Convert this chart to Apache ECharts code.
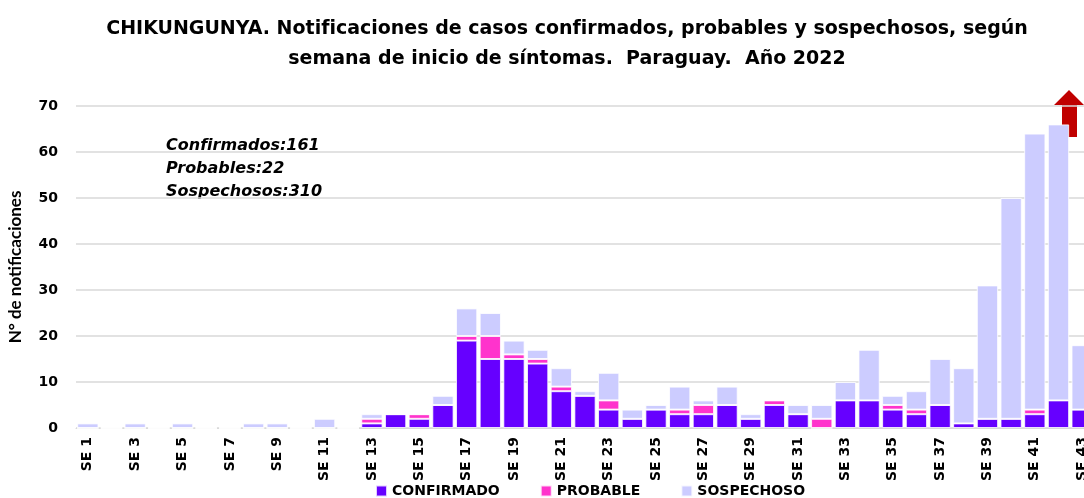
<!DOCTYPE html>
<html lang="es">
<head>
    <meta charset="UTF-8">
    <title>Chikungunya Paraguay 2022</title>
    <script src="https://cdn.jsdelivr.net/npm/echarts@6/dist/echarts.min.js"></script>
    <style>
        html, body { margin: 0; padding: 0; background: #fff; }
        #chart { width: 1084px; height: 498px; }
    </style>
</head>
<body>
    <div id="chart"></div>
    <script>
        // semanas epidemiológicas SE 1 .. SE 43
        const semanas = [];
        for (let i = 1; i <= 43; i++) semanas.push('SE ' + i);

        const confirmados = [0,0,0,0,0,0,0,0,0,0, 0,0,1,3,2,5,19,15,15,14, 8,7,4,2,4,3,3,5,2,5, 3,0,6,6,4,3,5,1,2,2, 3,6,4];
        const probables   = [0,0,0,0,0,0,0,0,0,0, 0,0,1,0,1,0,1,5,1,1, 1,0,2,0,0,1,2,0,0,1, 0,2,0,0,1,1,0,0,0,0, 1,0,0];
        const sospechosos = [1,0,1,0,1,0,0,1,1,0, 2,0,1,0,0,2,6,5,3,2, 4,1,6,2,1,5,1,4,1,0, 2,3,4,11,2,4,10,12,29,48, 60,60,14];

        const totales = ['Confirmados:161', 'Probables:22', 'Sospechosos:310'];

        const chart = echarts.init(document.getElementById('chart'));

        const barStyle = (color) => ({
            color: color,
            borderColor: 'rgba(255,255,255,0.8)',
            borderWidth: 1
        });

        const option = {
            animation: false,
            title: {
                text: 'CHIKUNGUNYA. Notificaciones de casos confirmados, probables y sospechosos, según\nsemana de inicio de síntomas.  Paraguay.  Año 2022',
                left: 562,
                textAlign: 'center',
                top: 9,
                textStyle: {
                    fontFamily: 'DejaVu Sans',
                    fontWeight: 'bold',
                    fontSize: 19,
                    lineHeight: 30,
                    color: '#000'
                }
            },
            legend: {
                bottom: -5,
                left: 370,
                itemGap: 40,
                itemWidth: 11,
                itemHeight: 11,
                icon: 'rect',
                textStyle: {
                    fontFamily: 'DejaVu Sans',
                    fontWeight: 'bold',
                    fontSize: 14,
                    color: '#000'
                },
                data: ['CONFIRMADO', 'PROBABLE', 'SOSPECHOSO']
            },
            grid: {
                left: 76,
                right: -10,
                top: 106,
                bottom: 70,
                containLabel: false,
                outerBoundsMode: 'none'
            },
            xAxis: {
                type: 'category',
                data: semanas,
                axisTick: { show: false },
                axisLine: { lineStyle: { color: '#d9d9d9' } },
                axisLabel: {
                    interval: 1,
                    rotate: 90,
                    margin: 9,
                    fontFamily: 'DejaVu Sans',
                    fontWeight: 'bold',
                    fontSize: 14,
                    color: '#000'
                }
            },
            yAxis: {
                type: 'value',
                min: 0,
                max: 70,
                interval: 10,
                name: 'N° de notificaciones',
                nameLocation: 'middle',
                nameGap: 52,
                nameTextStyle: {
                    fontFamily: 'Lato',
                    fontWeight: 'bold',
                    fontSize: 17,
                    color: '#000'
                },
                axisLine: { show: false },
                axisTick: { show: false },
                axisLabel: {
                    margin: 18,
                    fontFamily: 'DejaVu Sans',
                    fontWeight: 'bold',
                    fontSize: 14,
                    color: '#000'
                },
                splitLine: { lineStyle: { color: '#d9d9d9', width: 1.5 } }
            },
            series: [
                {
                    name: 'CONFIRMADO',
                    type: 'bar',
                    stack: 'casos',
                    barCategoryGap: '10%',
                    itemStyle: barStyle('#6600ff'),
                    data: confirmados
                },
                {
                    name: 'PROBABLE',
                    type: 'bar',
                    stack: 'casos',
                    itemStyle: barStyle('#ff33cc'),
                    data: probables
                },
                {
                    name: 'SOSPECHOSO',
                    type: 'bar',
                    stack: 'casos',
                    itemStyle: barStyle('#ccccff'),
                    data: sospechosos
                }
            ],
            graphic: [
                {
                    type: 'text',
                    left: 166,
                    top: 134,
                    style: {
                        text: totales.join('\n'),
                        font: 'italic bold 16px "DejaVu Sans"',
                        lineHeight: 23,
                        fill: '#000'
                    }
                },
                {
                    // flecha roja (valor fuera de escala)
                    type: 'polygon',
                    shape: {
                        points: [[1069, 90], [1084, 105], [1077, 105], [1077, 137], [1062, 137], [1062, 105], [1054, 105]]
                    },
                    style: { fill: '#c00000' }
                }
            ]
        };

        chart.setOption(option);
    </script>
</body>
</html>
